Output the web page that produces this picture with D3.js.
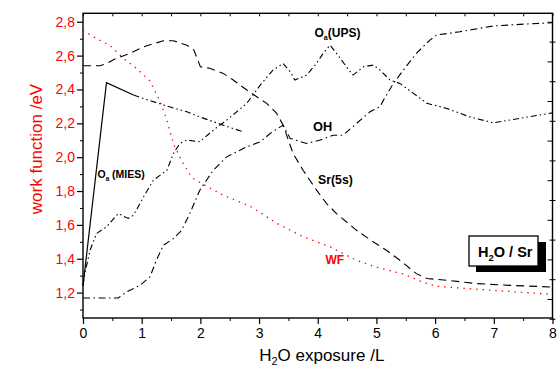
<!DOCTYPE html>
<html>
<head>
<meta charset="utf-8">
<script src="https://cdnjs.cloudflare.com/ajax/libs/d3/7.8.5/d3.min.js"></script>
<style>
  body { margin: 0; background: #fff; }
  svg { display: block; font-family: Arial, "Liberation Sans", sans-serif; }
</style>
</head>
<body>
<svg id="chart" width="560" height="369"></svg>
<script>
// tick values
const xTicks = [0, 1, 2, 3, 4, 5, 6, 7, 8];
const xMinor = [0.5, 1.5, 2.5, 3.5, 4.5, 5.5, 6.5, 7.5];
const yTicks = [1.2, 1.4, 1.6, 1.8, 2.0, 2.2, 2.4, 2.6, 2.8];
const yMinor = [1.1, 1.3, 1.5, 1.7, 1.9, 2.1, 2.3, 2.5, 2.7];
const rightTicks = [0, 1, 2, 3, 4, 5, 6, 7];
const rightMinor = [-0.5, 0.5, 1.5, 2.5, 3.5, 4.5, 5.5, 6.5];

// [exposure L, value]
const wf = [[0, 2.75], [0.23, 2.70], [0.46, 2.66], [0.70, 2.58], [0.93, 2.52], [1.14, 2.45],
  [1.30, 2.34], [1.43, 2.22], [1.54, 2.08], [1.68, 1.98], [1.85, 1.88], [2.02, 1.845],
  [2.39, 1.775], [2.85, 1.71], [3.30, 1.61], [3.75, 1.53], [4.21, 1.47], [4.66, 1.39],
  [5.00, 1.35], [5.46, 1.31], [5.80, 1.26], [6.03, 1.237], [6.42, 1.227], [6.99, 1.213], [8.0, 1.19]];

const sr5s = [[0, 2.54], [0.29, 2.54], [0.40, 2.554], [0.57, 2.584], [0.80, 2.613], [1.03, 2.652],
  [1.37, 2.688], [1.54, 2.688], [1.77, 2.662], [1.89, 2.633], [2.00, 2.534], [2.16, 2.525],
  [2.39, 2.495], [2.56, 2.456], [2.79, 2.397], [2.96, 2.357], [3.13, 2.318], [3.30, 2.259],
  [3.41, 2.189], [3.47, 2.13], [3.58, 2.022], [3.75, 1.923], [3.98, 1.805], [4.15, 1.726],
  [4.32, 1.667], [4.66, 1.568], [4.95, 1.499], [5.17, 1.45], [5.40, 1.391], [5.68, 1.312],
  [5.86, 1.283], [6.20, 1.273], [6.71, 1.253], [7.27, 1.243], [8.0, 1.233]];

const oh = [[0, 1.168], [0.60, 1.168], [0.74, 1.204], [0.97, 1.243], [1.14, 1.292], [1.25, 1.391],
  [1.37, 1.48], [1.54, 1.519], [1.68, 1.568], [1.82, 1.667], [1.99, 1.805], [2.22, 1.923],
  [2.45, 2.002], [2.79, 2.061], [3.02, 2.091], [3.19, 2.14], [3.36, 2.179], [3.41, 2.189],
  [3.53, 2.111], [3.81, 2.081], [4.04, 2.101], [4.26, 2.13], [4.43, 2.13], [4.66, 2.199],
  [4.89, 2.268], [5.06, 2.298], [5.12, 2.337], [5.29, 2.436], [5.46, 2.515], [5.68, 2.613],
  [5.91, 2.692], [6.03, 2.722], [6.42, 2.741], [6.99, 2.775], [7.56, 2.787], [8.0, 2.794]];

const oaUps = [[0, 1.243], [0.03, 1.312], [0.12, 1.45], [0.23, 1.549], [0.40, 1.588], [0.60, 1.667],
  [0.77, 1.638], [0.86, 1.657], [1.03, 1.765], [1.20, 1.864], [1.43, 1.923], [1.54, 2.022],
  [1.65, 2.081], [1.77, 2.101], [1.99, 2.091], [2.22, 2.16], [2.45, 2.219], [2.79, 2.318],
  [3.02, 2.426], [3.24, 2.515], [3.41, 2.554], [3.53, 2.505], [3.61, 2.456], [3.81, 2.485],
  [3.98, 2.554], [4.09, 2.613], [4.21, 2.662], [4.32, 2.613], [4.49, 2.534], [4.60, 2.485],
  [4.78, 2.534], [4.95, 2.544], [5.06, 2.515], [5.23, 2.456], [5.40, 2.436], [5.63, 2.377],
  [5.86, 2.318], [6.20, 2.288], [6.59, 2.238], [6.99, 2.203], [7.44, 2.229], [8.0, 2.262]];

const oaMiesRise = [[0, 1.24], [0.40, 2.44], [0.86, 2.367]];
const oaMiesTail = [[0.86, 2.367], [1.08, 2.341], [1.43, 2.302], [1.77, 2.268], [1.99, 2.238],
  [2.39, 2.189], [2.73, 2.15]];

const svg = d3.select('#chart');
const width = +svg.attr('width');
const height = +svg.attr('height');
const margin = { top: 13.3, right: 7.5, bottom: 51, left: 83 };
const innerWidth = width - margin.left - margin.right;
const innerHeight = height - margin.top - margin.bottom;

const xScale = d3.scaleLinear().domain([0, 8]).range([0, innerWidth]);
const yScale = d3.scaleLinear().domain([1.05, 2.85]).range([innerHeight, 0]);
const yRight = d3.scaleLinear().domain([-0.48, 7.215]).range([innerHeight, 0]);

const g = svg.append('g')
  .attr('transform', `translate(${margin.left},${margin.top})`);

const comma = d => d3.format('.1f')(d).replace('.', ',');

// helper for label-less tick rows
function tickRow(axis, transform) {
  const row = g.append('g').attr('transform', transform || null).call(axis);
  row.select('.domain').remove();
  row.selectAll('text').remove();
  return row;
}

// left axis (red labels)
const yAxisG = g.append('g')
  .call(d3.axisLeft(yScale).tickValues(yTicks).tickSize(6).tickPadding(2).tickFormat(comma));
yAxisG.select('.domain').remove();
yAxisG.selectAll('text').attr('fill', '#f00').attr('font-size', 14);
yAxisG.selectAll('line').attr('stroke-width', 1.2);

tickRow(d3.axisLeft(yScale).tickValues(yMinor).tickSize(3));

// bottom axis
const xAxisG = g.append('g')
  .attr('transform', `translate(0,${innerHeight})`)
  .call(d3.axisBottom(xScale).tickValues(xTicks).tickSize(6).tickPadding(4.5).tickFormat(d3.format('d')));
xAxisG.select('.domain').remove();
xAxisG.selectAll('text').attr('fill', '#000').attr('font-size', 14);
xAxisG.selectAll('line').attr('stroke-width', 1.2);

tickRow(d3.axisBottom(xScale).tickValues(xMinor).tickSize(3), `translate(0,${innerHeight})`);

// top axis, inward ticks
tickRow(d3.axisTop(xScale).tickValues(xTicks.concat(xMinor)).tickSize(-3));

// right axis, inward ticks, no labels
tickRow(d3.axisRight(yRight).tickValues(rightTicks).tickSize(-5), `translate(${innerWidth},0)`);
tickRow(d3.axisRight(yRight).tickValues(rightMinor).tickSize(3), `translate(${innerWidth},0)`)
  .selectAll('line').attr('x1', -3);

// frame
g.append('rect')
  .attr('width', innerWidth)
  .attr('height', innerHeight)
  .attr('fill', 'none')
  .attr('stroke', '#000')
  .attr('stroke-width', 1.4);

// curves
const line = d3.line()
  .x(d => xScale(d[0]))
  .y(d => yScale(d[1]));

const series = [
  { data: wf, color: '#f00', dash: '1.4,5', w: 1.3 },
  { data: sr5s, color: '#000', dash: '8,5', w: 1.1 },
  { data: oh, color: '#000', dash: '7,3.5,1.5,3.5', w: 1.1 },
  { data: oaUps, color: '#000', dash: '6,3,1.5,3,1.5,3', w: 1.1 },
  { data: oaMiesRise, color: '#000', dash: null, w: 1.2 },
  { data: oaMiesTail, color: '#000', dash: '6,3,1.5,3,1.5,3', w: 1.1 }
];

g.selectAll('path.curve').data(series)
  .enter().append('path')
    .attr('class', 'curve')
    .attr('d', d => line(d.data))
    .attr('fill', 'none')
    .attr('stroke', d => d.color)
    .attr('stroke-width', d => d.w)
    .attr('stroke-dasharray', d => d.dash);

// annotations
function label(x, y, size, color, main, sub, rest) {
  const t = svg.append('text')
    .attr('x', x).attr('y', y)
    .attr('font-size', size)
    .attr('font-weight', 'bold')
    .attr('fill', color);
  t.append('tspan').text(main);
  if (sub) {
    t.append('tspan').attr('font-size', size * 0.6).attr('dy', size * 0.25).text(sub);
    t.append('tspan').attr('dy', -size * 0.25).text(rest);
  }
  return t;
}

label(97.5, 178.3, 10.5, '#000', 'O', 'a', ' (MIES)');
label(314.5, 36.7, 12, '#000', 'O', 'a', '(UPS)');
label(313, 130.7, 12.8, '#000', 'OH');
label(318, 184, 12.3, '#000', 'Sr(5s)');
label(325.5, 264.3, 12, '#f00', 'WF');

// H2O / Sr box with shadow
svg.append('rect')
  .attr('x', 476).attr('y', 242)
  .attr('width', 70).attr('height', 30)
  .attr('fill', '#000');
svg.append('rect')
  .attr('x', 469).attr('y', 236)
  .attr('width', 69).attr('height', 30)
  .attr('fill', '#fff')
  .attr('stroke', '#000')
  .attr('stroke-width', 1.3);
const boxText = svg.append('text')
  .attr('x', 478).attr('y', 257)
  .attr('font-size', 14.5)
  .attr('font-weight', 'bold');
boxText.append('tspan').text('H');
boxText.append('tspan').attr('font-size', 9.5).attr('dy', 4).text('2');
boxText.append('tspan').attr('dy', -4).text('O / Sr');

// axis titles
const xTitle = svg.append('text')
  .attr('x', margin.left + innerWidth / 2 + 4)
  .attr('y', 361)
  .attr('text-anchor', 'middle')
  .attr('font-size', 17)
  .attr('fill', '#000');
xTitle.append('tspan').text('H');
xTitle.append('tspan').attr('font-size', 11).attr('dy', 3.5).text('2');
xTitle.append('tspan').attr('dy', -3.5).text('O exposure /L');

svg.append('text')
  .attr('transform', 'translate(41.5,149) rotate(-90)')
  .attr('text-anchor', 'middle')
  .attr('font-size', 17)
  .attr('fill', '#f00')
  .text('work function /eV');
</script>
</body>
</html>
